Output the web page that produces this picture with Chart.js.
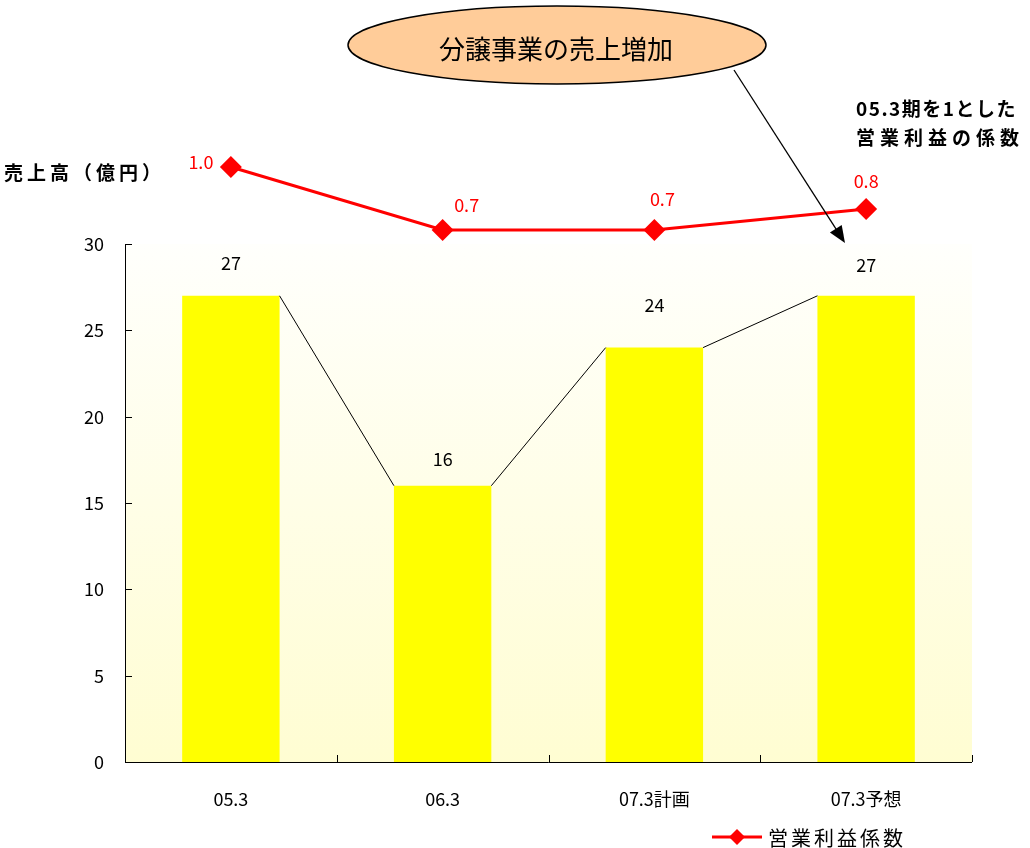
<!DOCTYPE html>
<html>
<head>
<meta charset="utf-8">
<script src="https://cdn.jsdelivr.net/npm/chart.js@4"></script>
<style>
  html, body { margin: 0; padding: 0; background: #fff; }
  #wrap { width: 1030px; height: 848px; }
</style>
</head>
<body>
<div id="wrap"><canvas id="c"></canvas></div>
<script>
var categories = ['05.3', '06.3', '07.3計画', '07.3予想'];
var salesValues = [27, 16, 24, 27];          // 売上高(億円)
var profitIndex = [1.0, 0.7, 0.7, 0.8];      // 05.3期を1とした営業利益の係数
var salesTicks = [0, 5, 10, 15, 20, 25, 30];

// hand placed value labels (dx, dy from the mark)
var barLabelOffset = [[0, -33], [0, -27], [0, -42], [0, -31]];
var lineLabelOffset = [[-30, -5], [24, -25], [8, -31], [0, -28]];

var FONT = "'Noto Sans CJK JP', 'Noto Sans', sans-serif";
var RED = '#FF0000';

function diamond(ctx, x, y, r) {
    ctx.beginPath();
    ctx.moveTo(x, y - r); ctx.lineTo(x + r, y); ctx.lineTo(x, y + r); ctx.lineTo(x - r, y);
    ctx.closePath(); ctx.fill();
}

var decor = {
    id: 'decor',
    beforeDatasetsDraw: function (chart) {
        var ctx = chart.ctx, a = chart.chartArea, y = chart.scales.y;
        var top = y.getPixelForValue(salesTicks[salesTicks.length - 1]), bot = y.getPixelForValue(0);
        var g = ctx.createLinearGradient(0, top, 0, bot);
        g.addColorStop(0, '#FFFFFC');
        g.addColorStop(1, '#FFFDD2');
        ctx.save();
        ctx.fillStyle = g;
        ctx.fillRect(a.left, top, a.right - a.left, bot - top);
        ctx.restore();
    },
    afterDatasetsDraw: function (chart) {
        var ctx = chart.ctx, a = chart.chartArea, y = chart.scales.y;
        var top = y.getPixelForValue(salesTicks[salesTicks.length - 1]), bot = y.getPixelForValue(0);
        ctx.save();
        // axes with inward ticks
        ctx.strokeStyle = '#000'; ctx.lineWidth = 1;
        ctx.beginPath();
        ctx.moveTo(a.left + 0.5, top); ctx.lineTo(a.left + 0.5, bot + 0.5); ctx.lineTo(a.right, bot + 0.5);
        salesTicks.forEach(function (v) {
            var py = Math.round(y.getPixelForValue(v)) + 0.5;
            ctx.moveTo(a.left, py); ctx.lineTo(a.left + 7, py);
        });
        var step = (a.right - a.left) / categories.length;
        for (var i = 1; i <= categories.length; i++) {
            var px = Math.round(a.left + step * i) + 0.5;
            ctx.moveTo(px, bot); ctx.lineTo(px, bot - 7);
        }
        ctx.stroke();

        // thin connectors between bar tops
        var bars = chart.getDatasetMeta(0).data;
        ctx.beginPath();
        for (var j = 0; j < bars.length - 1; j++) {
            var b0 = bars[j], b1 = bars[j + 1];
            ctx.moveTo(b0.x + b0.width / 2, b0.y);
            ctx.lineTo(b1.x - b1.width / 2, b1.y);
        }
        ctx.stroke();

        // value labels
        ctx.font = '18px ' + FONT;
        ctx.textAlign = 'center'; ctx.textBaseline = 'middle';
        ctx.fillStyle = '#000';
        bars.forEach(function (b, k) {
            ctx.fillText(salesValues[k].toFixed(0), b.x + barLabelOffset[k][0], b.y + barLabelOffset[k][1]);
        });
        ctx.fillStyle = RED;
        chart.getDatasetMeta(1).data.forEach(function (p, k) {
            ctx.fillText(profitIndex[k].toFixed(1), p.x + lineLabelOffset[k][0], p.y + lineLabelOffset[k][1]);
        });
        ctx.restore();
    },
    afterDraw: function (chart) {
        var ctx = chart.ctx;
        ctx.save();
        // callout
        ctx.beginPath();
        ctx.ellipse(557, 45, 209, 39, 0, 0, Math.PI * 2);
        ctx.fillStyle = '#FFCC99'; ctx.fill();
        ctx.lineWidth = 1.5; ctx.strokeStyle = '#000'; ctx.stroke();
        ctx.fillStyle = '#000';
        ctx.font = '26px ' + FONT;
        ctx.textAlign = 'center'; ctx.textBaseline = 'middle';
        ctx.fillText('分譲事業の売上増加', 556, 49);

        // arrow to the last bar
        var x0 = 734, y0 = 70, x1 = 845, y1 = 243;
        var ang = Math.atan2(y1 - y0, x1 - x0);
        ctx.lineWidth = 1.3;
        ctx.beginPath();
        ctx.moveTo(x0, y0);
        ctx.lineTo(x1 - 12 * Math.cos(ang), y1 - 12 * Math.sin(ang));
        ctx.stroke();
        ctx.beginPath();
        ctx.moveTo(x1, y1);
        ctx.lineTo(x1 - 17 * Math.cos(ang) + 7 * Math.sin(ang), y1 - 17 * Math.sin(ang) - 7 * Math.cos(ang));
        ctx.lineTo(x1 - 17 * Math.cos(ang) - 7 * Math.sin(ang), y1 - 17 * Math.sin(ang) + 7 * Math.cos(ang));
        ctx.closePath(); ctx.fill();

        // axis titles
        ctx.textAlign = 'left';
        ctx.font = 'bold 19px ' + FONT;
        ctx.letterSpacing = '4px';
        ctx.fillText('売上高（億円）', 4, 173);
        ctx.letterSpacing = '1.5px';
        ctx.fillText('05.3期を1とした', 856, 109);
        ctx.letterSpacing = '5px';
        ctx.fillText('営業利益の係数', 856, 138);

        // legend
        ctx.letterSpacing = '3px';
        ctx.strokeStyle = RED; ctx.fillStyle = RED; ctx.lineWidth = 3;
        ctx.beginPath(); ctx.moveTo(712, 837); ctx.lineTo(762, 837); ctx.stroke();
        diamond(ctx, 737, 837, 8);
        ctx.fillStyle = '#000';
        ctx.font = '20px ' + FONT;
        ctx.fillText('営業利益係数', 768, 838);
        ctx.restore();
    }
};

new Chart(document.getElementById('c'), {
    data: {
        labels: categories,
        datasets: [{
            type: 'bar',
            label: '売上高',
            data: salesValues,
            backgroundColor: '#FFFF00',
            borderWidth: 0,
            barPercentage: 0.46,
            categoryPercentage: 1,
            yAxisID: 'y',
            order: 2
        }, {
            type: 'line',
            label: '営業利益係数',
            data: profitIndex,
            borderColor: RED,
            backgroundColor: RED,
            borderWidth: 3,
            pointStyle: 'rectRot',
            pointRadius: 11,
            pointBorderWidth: 0,
            pointBackgroundColor: RED,
            yAxisID: 'y2',
            order: 1
        }]
    },
    options: {
        responsive: true,
        maintainAspectRatio: false,
        animation: false,
        layout: { padding: { left: 0, top: 100, right: 58, bottom: 0 } },
        plugins: { legend: { display: false }, tooltip: { enabled: false } },
        scales: {
            x: {
                offset: true,
                grid: { display: false, drawTicks: false, tickLength: 0 },
                border: { display: false },
                ticks: { color: '#000', font: { family: FONT, size: 18 }, padding: 26 },
                afterFit: function (s) { s.height = 86; }
            },
            y: {
                min: 0,
                max: 30 * 662 / 518,
                grid: { display: false, drawTicks: false, tickLength: 0 },
                border: { display: false },
                ticks: { color: '#000', font: { family: FONT, size: 18 }, padding: 21 },
                afterBuildTicks: function (s) { s.ticks = salesTicks.map(function (v) { return { value: v }; }); },
                afterFit: function (s) { s.width = 125; }
            },
            y2: {
                display: false,
                min: -385 / 210,
                max: 277 / 210
            }
        }
    },
    plugins: [decor]
});
</script>
</body>
</html>
